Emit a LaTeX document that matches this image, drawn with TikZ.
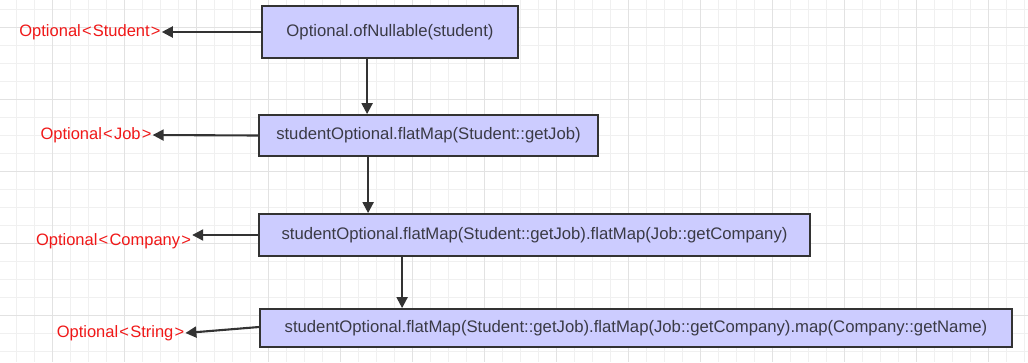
\documentclass[tikz,border=0pt]{standalone}
\usepackage{fontspec}
\setmainfont{Liberation Sans}
\usetikzlibrary{arrows.meta}
\definecolor{boxfill}{HTML}{CCCCFF}
\definecolor{boxline}{HTML}{333333}
\definecolor{boxtext}{HTML}{3A3A45}
\definecolor{labelred}{HTML}{F01818}
\definecolor{gridminor}{HTML}{F0F0F0}
\definecolor{gridmajor}{HTML}{E2E2E2}
\newcommand{\lt}{\kern1.2pt<\kern1.2pt}
\newcommand{\gt}{\kern1.2pt>}
\tikzset{
  callbox/.style={draw=boxline, line width=1.8pt, fill=boxfill, text=boxtext,
    inner sep=0pt, font=\fontsize{16.7}{19}\selectfont},
  typelabel/.style={text=labelred, inner sep=1pt, font=\fontsize{16.5}{19}\selectfont},
  flow/.style={draw=boxline, line width=2.1pt, -{Triangle[length=11pt,width=11pt]}},
}
\begin{document}
\begin{tikzpicture}[x=1pt,y=-1pt]
  % canvas and background grid
  \fill[white] (0,0) rectangle (1028,362);
  \useasboundingbox (0,0) rectangle (1028,362);
  \foreach \i in {0,...,56} \draw[gridminor, line width=0.8pt] ({16.7+18*\i},0) -- ({16.7+18*\i},362);
  \foreach \i in {0,...,19} \draw[gridminor, line width=0.8pt] (0,{9.3+18*\i}) -- (1028,{9.3+18*\i});
  \foreach \i in {0,...,13} \draw[gridmajor, line width=0.8pt] ({52.3+72*\i},0) -- ({52.3+72*\i},362);
  \foreach \i in {0,...,4} \draw[gridmajor, line width=0.8pt] (0,{27.3+72*\i}) -- (1028,{27.3+72*\i});

  % call chain
  \node[callbox, minimum width=256pt, minimum height=52pt] (b1) at (390,32)
    {Optional.ofNullable(student)};
  \node[callbox, minimum width=339pt, minimum height=41pt] (b2) at (428.5,135.5)
    {studentOptional.flatMap(Student::getJob)};
  \node[callbox, minimum width=551pt, minimum height=42pt] (b3) at (534.5,235)
    {studentOptional.flatMap(Student::getJob).flatMap(Job::getCompany)};
  \node[callbox, minimum width=752pt, minimum height=38pt] (b4) at (636,328)
    {studentOptional.flatMap(Student::getJob).flatMap(Job::getCompany).map(Company::getName)};

  % resulting types
  \node[typelabel] (l1) at (90,32) {Optional\lt Student\gt};
  \node[typelabel] (l2) at (96,135) {Optional\lt Job\gt};
  \node[typelabel] (l3) at (113.5,241) {Optional\lt Company\gt};
  \node[typelabel] (l4) at (120.5,333) {Optional\lt String\gt};

  % downward flow
  \draw[flow] ([xshift=106pt]b1.south west) -- ([xshift=106pt]b1.south west |- b2.north);
  \draw[flow] ([xshift=110pt]b2.south west) -- ([xshift=110pt]b2.south west |- b3.north);
  \draw[flow] ([xshift=144pt]b3.south west) -- ([xshift=144pt]b3.south west |- b4.north);

  % type arrows
  \draw[flow] (b1.west) -- (l1.east);
  \draw[flow] (b2.west) -- (l2.east);
  \draw[flow] (b3.west) -- (l3.east |- b3.west);
  \draw[flow] ([yshift=1pt]b4.west) -- (l4.east);
\end{tikzpicture}
\end{document}
